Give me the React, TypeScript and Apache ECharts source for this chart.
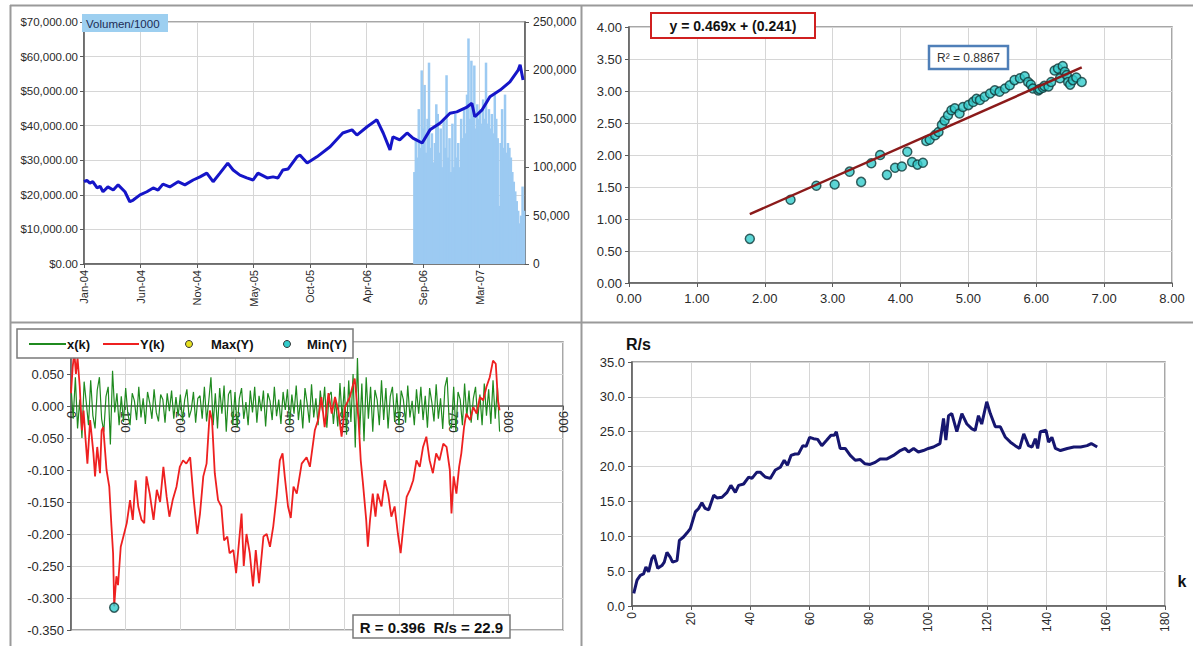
import React, { useEffect, useRef } from "react";
import * as echarts from "echarts";

// ---------- Panel 1: price & volume ----------
const dateLabels = ["Jan-04", "Jun-04", "Nov-04", "May-05", "Oct-05", "Apr-06", "Sep-06", "Mar-07"];
const dayTickStep = 116;
const dayMax = 905;
// [trading day index, price]
const pricePoints = [
  [0, 23800], [6, 24200], [12, 23400], [18, 23800], [27, 22000], [33, 22500], [39, 20900], [49, 22300], [60, 21400], [70, 22900],
  [84, 20900], [94, 18000], [101, 18500], [115, 20000], [129, 20900], [142, 22000], [152, 21400], [162, 23100], [176, 22300], [193, 23800],
  [207, 22900], [224, 24300], [238, 25200], [252, 26300], [265, 23800], [279, 26300], [295, 29200], [306, 27200], [320, 25700], [334, 24900],
  [347, 24300], [357, 26300], [376, 24900], [388, 25200], [398, 24900], [408, 27200], [419, 27500], [437, 31000], [443, 31500], [458, 29200],
  [478, 31000], [505, 33900], [531, 37900], [550, 38800], [560, 37300], [581, 39700], [601, 41700], [614, 37900], [628, 33000], [634, 36800],
  [648, 35900], [663, 37900], [675, 36400], [694, 35000], [710, 38800], [731, 40800], [751, 43600], [765, 44000], [786, 45400], [796, 46500],
  [802, 42600], [817, 44600], [833, 48400], [854, 50300], [874, 52700], [891, 56100], [895, 57600], [901, 53200]
];
const volumeStartDay = 678;
const volumeDayStep = 3;
const volumeValues = [
  95000, 130000, 110000, 160000, 120000, 200000, 140000, 185000, 115000, 150000,
  208000, 120000, 135000, 105000, 125000, 165000, 155000, 115000, 140000, 100000,
  150000, 120000, 195000, 110000, 130000, 95000, 145000, 100000, 155000, 110000,
  125000, 100000, 150000, 130000, 160000, 135000, 175000, 233000, 150000, 210000,
  160000, 205000, 140000, 165000, 150000, 160000, 145000, 170000, 150000, 208000,
  145000, 160000, 140000, 155000, 135000, 175000, 150000, 130000, 60000, 125000,
  160000, 120000, 175000, 115000, 125000, 120000, 110000, 95000, 85000, 75000,
  65000, 55000, 42000, 50000, 80000, 55000
];

// ---------- Panel 2: regression scatter ----------
const scatterPoints = [
  [1.78, 0.69], [2.38, 1.30], [2.76, 1.52], [3.03, 1.54], [3.25, 1.74], [3.42, 1.58], [3.57, 1.87], [3.70, 2.00], [3.80, 1.69],
  [3.92, 1.80], [4.02, 1.82], [4.10, 2.05], [4.17, 1.89], [4.25, 1.85], [4.33, 1.88], [4.38, 2.22], [4.43, 2.24], [4.51, 2.31],
  [4.56, 2.36], [4.61, 2.47], [4.65, 2.54], [4.70, 2.62], [4.75, 2.70], [4.80, 2.73], [4.87, 2.65], [4.92, 2.75], [5.00, 2.78],
  [5.07, 2.83], [5.12, 2.88], [5.17, 2.86], [5.24, 2.91], [5.32, 2.96], [5.39, 3.01], [5.46, 2.99], [5.54, 3.04], [5.61, 3.09],
  [5.68, 3.17], [5.76, 3.20], [5.83, 3.23], [5.88, 3.14], [5.92, 3.10], [5.95, 3.04], [6.03, 3.01], [6.05, 3.03], [6.10, 3.05],
  [6.12, 3.08], [6.18, 3.07], [6.22, 3.14], [6.27, 3.32], [6.32, 3.35], [6.35, 3.20], [6.39, 3.39], [6.42, 3.30], [6.45, 3.25],
  [6.47, 3.14], [6.50, 3.10], [6.54, 3.17], [6.59, 3.21], [6.67, 3.14]
];
const trendLine = [[1.78, 1.076], [6.67, 3.369]];

// ---------- Panel 3: x(k), Y(k) ----------
const xkStep = 4;
const xkValues = [
  0.030, -0.020, 0.045, -0.035, 0.010, -0.050, 0.038, 0.005, -0.030, 0.040, -0.015, -0.035, 0.025, 0.045, -0.020, -0.040, 0.015, 0.030, -0.060, 0.055, -0.010, 0.020, -0.030, 0.015, -0.025,
  0.028, -0.012, -0.030, 0.020, 0.008, -0.022, 0.030, -0.018, 0.012, -0.028, 0.022, 0.005, -0.020, 0.026, -0.010, -0.024, 0.018, 0.010, -0.026, 0.020, -0.008, 0.024, -0.020, 0.014, -0.016,
  0.018, -0.024, 0.010, 0.026, -0.018, -0.006, 0.022, -0.026, 0.012, 0.016, -0.020, 0.030, -0.024, 0.008, 0.045, -0.030, 0.020, -0.035, 0.028, -0.012, 0.032, -0.040, 0.018, 0.025, -0.030,
  0.022, -0.034, 0.012, 0.028, -0.020, 0.006, -0.030, 0.024, -0.010, 0.030, -0.026, 0.016, -0.008, 0.024, -0.032, 0.020, 0.008, -0.022, 0.030, -0.016, 0.010, -0.028, 0.022, -0.006, 0.026,
  -0.030, 0.018, -0.012, 0.032, -0.022, 0.010, -0.035, 0.028, 0.004, -0.026, 0.034, -0.018, 0.012, -0.030, 0.024, -0.008, 0.030, -0.034, 0.016, 0.022, -0.028, 0.010, -0.032, 0.036, -0.020,
  0.030, -0.045, 0.040, -0.025, 0.050, -0.065, 0.075, -0.045, 0.035, -0.055, 0.045, -0.020, 0.030, -0.040, 0.025, 0.010, -0.030, 0.040, -0.022, 0.028, -0.035, 0.015, 0.030, -0.025, 0.020,
  -0.030, 0.024, 0.010, -0.026, 0.032, -0.018, 0.008, -0.030, 0.026, -0.012, 0.030, -0.022, 0.016, -0.034, 0.028, 0.006, -0.024, 0.034, -0.020, 0.012, -0.036, 0.030, 0.045, -0.028, -0.035,
  0.030, -0.040, 0.022, 0.010, -0.030, 0.035, -0.018, 0.024, -0.026, 0.012, 0.030, -0.022, 0.018, -0.030, 0.035, -0.015, 0.026, -0.028, 0.040, -0.020, 0.030, -0.040
];
const ykPoints = [
  [0, 0.02], [3, 0.06], [6, 0.085], [9, 0.05], [12, 0.075], [16, 0.03], [20, -0.038], [23, -0.007], [26, -0.045], [30, -0.09],
  [35, -0.022], [41, -0.074], [44, -0.11], [48, -0.064], [53, -0.105], [56, -0.038], [59, -0.033], [65, -0.1], [70, -0.126], [74, -0.188],
  [77, -0.23], [79, -0.313], [83, -0.266], [86, -0.28], [91, -0.22], [97, -0.2], [102, -0.183], [108, -0.147], [113, -0.178], [118, -0.116],
  [123, -0.157], [129, -0.178], [134, -0.183], [138, -0.11], [144, -0.137], [151, -0.178], [157, -0.131], [163, -0.15], [169, -0.095], [175, -0.142],
  [180, -0.173], [186, -0.147], [193, -0.126], [199, -0.095], [205, -0.085], [211, -0.09], [218, -0.08], [224, -0.142], [231, -0.2], [236, -0.168],
  [242, -0.11], [248, -0.09], [254, -0.007], [258, -0.022], [263, -0.105], [269, -0.147], [275, -0.157], [280, -0.21], [286, -0.204], [290, -0.23],
  [297, -0.225], [302, -0.261], [306, -0.225], [312, -0.168], [316, -0.25], [321, -0.2], [327, -0.23], [333, -0.282], [338, -0.225], [344, -0.277],
  [352, -0.204], [358, -0.2], [364, -0.22], [370, -0.188], [376, -0.142], [382, -0.085], [387, -0.074], [391, -0.11], [397, -0.157], [402, -0.175],
  [407, -0.126], [413, -0.137], [422, -0.09], [431, -0.08], [437, -0.095], [446, -0.038], [452, -0.022], [458, 0.014], [464, -0.033], [471, 0.02],
  [477, -0.012], [483, 0.014], [489, -0.007], [495, -0.048], [501, -0.002], [510, 0.014], [519, 0.043], [526, -0.022], [530, -0.085], [534, -0.12],
  [540, -0.178], [543, -0.22], [547, -0.178], [552, -0.137], [557, -0.173], [561, -0.137], [568, -0.157], [574, -0.116], [580, -0.137], [586, -0.173],
  [592, -0.157], [598, -0.2], [603, -0.23], [608, -0.188], [614, -0.142], [620, -0.131], [626, -0.116], [632, -0.085], [638, -0.095], [644, -0.064],
  [650, -0.048], [656, -0.085], [662, -0.105], [668, -0.074], [674, -0.085], [681, -0.059], [687, -0.064], [693, -0.1], [696, -0.168], [700, -0.11],
  [705, -0.137], [710, -0.095], [714, -0.074], [719, -0.033], [723, -0.012], [730, -0.022], [736, -0.002], [742, -0.012], [748, 0.014], [754, 0.009],
  [760, 0.03], [766, 0.045], [772, 0.071], [777, 0.066], [781, 0.009], [784, -0.007]
];
const maxYPoint = [[6, 0.085]];
const minYPoint = [[79, -0.315]];

// ---------- Panel 4: R/s ----------
const rsPoints = [
  [0.6, 1.8], [1.7, 3.7], [2.8, 4.4], [3.9, 4.6], [4.7, 5.6], [5.6, 4.9], [6.7, 6.8], [7.5, 7.3], [8.7, 5.4], [10.1, 5.8],
  [10.9, 6.3], [11.8, 7.7], [12.9, 7.0], [13.7, 6.3], [15.2, 6.5], [16, 9.4], [17.4, 9.9], [18.6, 10.5], [19.7, 11.1], [21.4, 13.5],
  [22.5, 14.0], [23.6, 14.8], [24.7, 14.0], [25.9, 13.8], [27.6, 15.9], [28.7, 15.5], [30.4, 15.6], [32.1, 16.3], [33.4, 17.3], [34.9, 16.3],
  [36, 17.3], [37.7, 17.5], [39.4, 18.5], [40.5, 18.3], [42.2, 19.2], [43.3, 19.2], [45, 18.5], [46.7, 18.3], [48.4, 19.5], [50.1, 19.9],
  [51.4, 20.9], [52.5, 20.2], [53.7, 21.6], [55.1, 21.8], [56.2, 21.8], [57.7, 23.0], [58.8, 22.9], [60, 24.2], [61.3, 24.0], [62.7, 23.9],
  [64.1, 23.0], [65.8, 23.8], [67.2, 24.5], [68.3, 24.5], [69, 25.0], [70.3, 22.6], [72, 22.6], [73.7, 21.6], [75.4, 20.9], [77.1, 21.0],
  [78.7, 20.4], [80.4, 20.3], [82.1, 20.6], [83.8, 21.1], [86.1, 21.1], [88.3, 21.6], [90.6, 22.3], [92.2, 22.6], [93.4, 22.1], [95.1, 22.6],
  [96.7, 22.1], [98.4, 22.3], [100.1, 22.6], [101.8, 22.8], [104, 23.3], [105.2, 26.9], [106, 23.8], [106.9, 27.3], [108, 27.6], [109.7, 25.0],
  [111.4, 27.6], [113.1, 26.1], [114.8, 25.4], [115.9, 25.2], [117, 27.3], [118.1, 26.1], [119.8, 29.3], [121, 27.6], [122.7, 25.7], [124.4, 25.7],
  [126.1, 24.2], [127.8, 23.5], [129.4, 23.0], [130.9, 22.6], [132.3, 24.7], [133.9, 23.0], [135.1, 22.8], [136.2, 24.0], [137, 22.6], [137.9, 25.0],
  [139.8, 25.2], [140.7, 23.5], [141.8, 24.2], [143, 22.6], [144.7, 22.3], [147, 22.6], [149.2, 22.8], [151.5, 22.8], [153.7, 23.0], [155.1, 23.3],
  [157.1, 22.8]
];

const FONT = "'Liberation Sans', Arial, Helvetica, sans-serif";
const AXIS_COLOR = "#5a5a5a";
const GRID_COLOR = "#d6d6d6";

// bottom-left grid geometry (y range -0.35 .. 0.10)
const G2_TOP = 342;
const G2_HEIGHT = 288;
const G2_YMIN = -0.35;
const G2_YMAX = 0.1;
const G2_ZERO_OFFSET = -(G2_HEIGHT * (0 - G2_YMIN)) / (G2_YMAX - G2_YMIN);

function axisBase(fontSize: number) {
  return {
    axisLine: { show: true, onZero: false, lineStyle: { color: AXIS_COLOR, width: 1.5 } },
    axisTick: { show: true, length: 4, lineStyle: { color: AXIS_COLOR } },
    splitLine: { show: true, lineStyle: { color: GRID_COLOR, width: 1 } },
    axisLabel: { fontSize, color: "#2a2a2a", fontFamily: FONT },
  };
}

export default function App() {
  const ref = useRef<HTMLDivElement>(null);
  useEffect(() => {
    if (!ref.current) return;
    const chart = echarts.init(ref.current, undefined, { renderer: "svg" });

    const volumeData = volumeValues.map((v, i) => [volumeStartDay + i * volumeDayStep, v]);
    const xkData = xkValues.map((v, i) => [i * xkStep, v]);

    const gridCommon = { show: true, borderColor: "#8a8a8a", borderWidth: 1.5, backgroundColor: "#ffffff" };

    const b0 = axisBase(11);
    const b1 = axisBase(13);
    const b2 = axisBase(13);
    const b3 = axisBase(12);

    const option: any = {
      animation: false,
      backgroundColor: "#ffffff",
      textStyle: { fontFamily: FONT },
      grid: [
        { left: 84, top: 22, width: 441, height: 242, ...gridCommon },
        { left: 629, top: 27, width: 543, height: 256, ...gridCommon },
        { left: 71, top: G2_TOP, width: 492, height: G2_HEIGHT, ...gridCommon },
        { left: 632, top: 362, width: 533, height: 244, ...gridCommon },
      ],
      xAxis: [
        {
          gridIndex: 0, type: "value", min: 0, max: dayMax, interval: dayTickStep, ...b0,
          axisLabel: {
            ...b0.axisLabel, rotate: 90, margin: 6, showMaxLabel: false,
            formatter: (v: number) => dateLabels[Math.round(v / dayTickStep)] ?? "",
          },
        },
        {
          gridIndex: 1, type: "value", min: 0, max: 8, interval: 1, ...b1,
          axisLabel: { ...b1.axisLabel, margin: 9, formatter: (v: number) => v.toFixed(2) },
        },
        {
          gridIndex: 2, type: "value", position: "bottom", offset: G2_ZERO_OFFSET, min: 0, max: 900, interval: 100, ...b2,
          axisLabel: { ...b2.axisLabel, rotate: -90, margin: 5, formatter: (v: number) => String(Math.round(v)) },
        },
        {
          gridIndex: 3, type: "value", min: 0, max: 180, interval: 20, ...b3,
          axisLabel: { ...b3.axisLabel, rotate: 90, margin: 6, formatter: (v: number) => String(Math.round(v)) },
        },
      ],
      yAxis: [
        {
          gridIndex: 0, type: "value", min: 0, max: 70000, interval: 10000, ...b0,
          axisLabel: {
            ...b0.axisLabel, fontSize: 11.5, margin: 6,
            formatter: (v: number) => "$" + v.toLocaleString("en-US", { minimumFractionDigits: 2, maximumFractionDigits: 2 }),
          },
        },
        {
          gridIndex: 0, type: "value", position: "right", min: 0, max: 250000, interval: 50000, ...b0,
          splitLine: { show: false },
          axisLabel: { ...b0.axisLabel, fontSize: 12, margin: 8, formatter: (v: number) => v.toLocaleString("en-US") },
        },
        {
          gridIndex: 1, type: "value", min: 0, max: 4, interval: 0.5, ...b1,
          axisLabel: { ...b1.axisLabel, margin: 7, formatter: (v: number) => v.toFixed(2) },
        },
        {
          gridIndex: 2, type: "value", min: G2_YMIN, max: G2_YMAX, interval: 0.05, ...b2,
          axisLabel: {
            ...b2.axisLabel, margin: 7,
            formatter: (v: number) => (Math.abs(v) < 1e-9 ? "0.000" : v.toFixed(3)),
          },
        },
        {
          gridIndex: 3, type: "value", min: 0, max: 35, interval: 5, ...b3,
          axisLabel: { ...b3.axisLabel, fontSize: 13, margin: 7, formatter: (v: number) => v.toFixed(1) },
        },
      ],
      series: [
        {
          name: "Volumen/1000", type: "bar", xAxisIndex: 0, yAxisIndex: 1, data: volumeData,
          barWidth: 2.5, itemStyle: { color: "#9ccaf2" }, silent: true, z: 1,
        },
        {
          name: "Price", type: "line", xAxisIndex: 0, yAxisIndex: 0, data: pricePoints,
          symbol: "none", lineStyle: { color: "#1515c8", width: 3 }, silent: true, z: 3,
        },
        {
          name: "Data", type: "scatter", xAxisIndex: 1, yAxisIndex: 2, data: scatterPoints,
          symbol: "circle", symbolSize: 9, itemStyle: { color: "#33cccc", borderColor: "#103838", borderWidth: 1.5 },
          silent: true, z: 2,
        },
        {
          name: "Trend", type: "line", xAxisIndex: 1, yAxisIndex: 2, data: trendLine,
          symbol: "none", lineStyle: { color: "#8b1a1a", width: 2.5 }, silent: true, z: 4,
        },
        {
          name: "x(k)", type: "line", xAxisIndex: 2, yAxisIndex: 3, data: xkData,
          symbol: "none", lineStyle: { color: "#1f8a1f", width: 1.2 }, silent: true, z: 2,
        },
        {
          name: "Y(k)", type: "line", xAxisIndex: 2, yAxisIndex: 3, data: ykPoints,
          symbol: "none", lineStyle: { color: "#ee2020", width: 1.8 }, silent: true, z: 3,
        },
        {
          name: "Max(Y)", type: "scatter", xAxisIndex: 2, yAxisIndex: 3, data: maxYPoint,
          symbol: "circle", symbolSize: 8, itemStyle: { color: "#e6e020", borderColor: "#333", borderWidth: 1 }, silent: true, z: 4,
        },
        {
          name: "Min(Y)", type: "scatter", xAxisIndex: 2, yAxisIndex: 3, data: minYPoint,
          symbol: "circle", symbolSize: 9, itemStyle: { color: "#33cccc", borderColor: "#103838", borderWidth: 1.5 }, silent: true, z: 4,
        },
        {
          name: "R/s", type: "line", xAxisIndex: 3, yAxisIndex: 4, data: rsPoints,
          symbol: "none", lineStyle: { color: "#161670", width: 3 }, silent: true, z: 3,
        },
      ],
      graphic: [
        // panel frames
        { type: "line", z: 50, shape: { x1: 10, y1: 5.5, x2: 1193, y2: 5.5 }, style: { stroke: "#9a9a9a", lineWidth: 2 } },
        { type: "line", z: 50, shape: { x1: 10.5, y1: 5, x2: 10.5, y2: 646 }, style: { stroke: "#9a9a9a", lineWidth: 2 } },
        { type: "line", z: 50, shape: { x1: 10, y1: 322.5, x2: 1193, y2: 322.5 }, style: { stroke: "#9a9a9a", lineWidth: 2 } },
        { type: "line", z: 50, shape: { x1: 581.5, y1: 5, x2: 581.5, y2: 646 }, style: { stroke: "#9a9a9a", lineWidth: 2 } },
        // Volumen/1000 label
        { type: "rect", z: 60, shape: { x: 82, y: 14, width: 86, height: 18 }, style: { fill: "#9dcff0" } },
        { type: "text", z: 61, x: 86, y: 23.5, style: { text: "Volumen/1000", fontSize: 11.5, fontFamily: FONT, fill: "#1c2c55", align: "left", verticalAlign: "middle" } },
        // regression equation
        { type: "rect", z: 60, shape: { x: 651, y: 13, width: 164, height: 25 }, style: { fill: "#ffffff", stroke: "#d02020", lineWidth: 2 } },
        { type: "text", z: 61, x: 733, y: 26, style: { text: "y = 0.469x + (0.241)", fontSize: 14, fontWeight: "bold", fontFamily: FONT, fill: "#111", align: "center", verticalAlign: "middle" } },
        { type: "rect", z: 60, shape: { x: 929, y: 46, width: 79, height: 23 }, style: { fill: "#ffffff", stroke: "#4f7fb8", lineWidth: 2.5 } },
        { type: "text", z: 61, x: 968.5, y: 57.5, style: { text: "R² = 0.8867", fontSize: 12, fontFamily: FONT, fill: "#333", align: "center", verticalAlign: "middle" } },
        // bottom-left legend
        { type: "rect", z: 60, shape: { x: 17, y: 329, width: 336, height: 29 }, style: { fill: "#ffffff", stroke: "#7a7a7a", lineWidth: 1.5 } },
        { type: "line", z: 61, shape: { x1: 29, y1: 344, x2: 66, y2: 344 }, style: { stroke: "#1f8a1f", lineWidth: 2 } },
        { type: "text", z: 61, x: 67, y: 344, style: { text: "x(k)", fontSize: 13, fontWeight: "bold", fontFamily: FONT, fill: "#111", align: "left", verticalAlign: "middle" } },
        { type: "line", z: 61, shape: { x1: 103, y1: 344, x2: 139, y2: 344 }, style: { stroke: "#ee2020", lineWidth: 2 } },
        { type: "text", z: 61, x: 140, y: 344, style: { text: "Y(k)", fontSize: 13, fontWeight: "bold", fontFamily: FONT, fill: "#111", align: "left", verticalAlign: "middle" } },
        { type: "circle", z: 61, shape: { cx: 189, cy: 344, r: 3.5 }, style: { fill: "#e6e020", stroke: "#333", lineWidth: 1 } },
        { type: "text", z: 61, x: 211, y: 344, style: { text: "Max(Y)", fontSize: 13, fontWeight: "bold", fontFamily: FONT, fill: "#111", align: "left", verticalAlign: "middle" } },
        { type: "circle", z: 61, shape: { cx: 287, cy: 344, r: 3.5 }, style: { fill: "#33cccc", stroke: "#333", lineWidth: 1 } },
        { type: "text", z: 61, x: 307, y: 344, style: { text: "Min(Y)", fontSize: 13, fontWeight: "bold", fontFamily: FONT, fill: "#111", align: "left", verticalAlign: "middle" } },
        // R box
        { type: "rect", z: 60, shape: { x: 353, y: 615, width: 157, height: 23 }, style: { fill: "#ffffff", stroke: "#7a7a7a", lineWidth: 1.5 } },
        { type: "text", z: 61, x: 431.5, y: 627, style: { text: "R = 0.396  R/s = 22.9", fontSize: 15, fontWeight: "bold", fontFamily: FONT, fill: "#111", align: "center", verticalAlign: "middle" } },
        // bottom-right axis titles
        { type: "text", z: 61, x: 626, y: 344, style: { text: "R/s", fontSize: 16, fontWeight: "bold", fontFamily: FONT, fill: "#111", align: "left", verticalAlign: "middle" } },
        { type: "text", z: 61, x: 1182, y: 581, style: { text: "k", fontSize: 16, fontWeight: "bold", fontFamily: FONT, fill: "#111", align: "center", verticalAlign: "middle" } },
      ],
    };

    chart.setOption(option);
    return () => chart.dispose();
  }, []);

  return (
    <div
      ref={ref}
      style={{ position: "fixed", left: 0, top: 0, width: 1193, height: 646, background: "#ffffff" }}
    />
  );
}
